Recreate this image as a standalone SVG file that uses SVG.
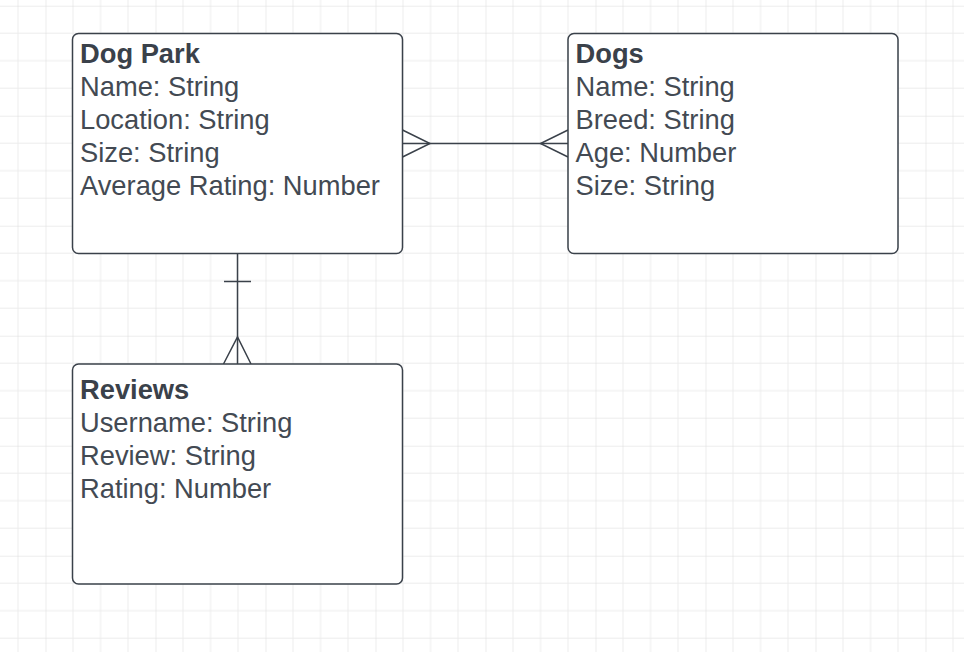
<svg xmlns="http://www.w3.org/2000/svg" width="964" height="652" viewBox="0 0 964 652">
  <defs>
    <pattern id="grid" patternUnits="userSpaceOnUse" x="45.5" y="5.7" width="110" height="110">
      <g fill="none" stroke="#ececec" stroke-width="1">
        <path d="M27.5 0V110M55 0V110M82.5 0V110M0 27.5H110M0 55H110M0 82.5H110"/>
      </g>
      <path d="M0 0V110M0 0H110" fill="none" stroke="#dcdcdc" stroke-width="1"/>
    </pattern>
    <style>
      .box { fill: #ffffff; stroke: #3a414a; stroke-width: 1.5; }
      .title { font-family: "Liberation Sans", Arial, sans-serif; font-size: 27.3px; font-weight: bold; fill: #3a414a; }
      .attr { font-family: "Liberation Sans", Arial, sans-serif; font-size: 27.3px; fill: #434a53; }
      .conn { fill: none; stroke: #3a414a; stroke-width: 1.5; }
    </style>
  </defs>
  <rect width="964" height="652" fill="#ffffff"/>
  <rect width="964" height="652" fill="url(#grid)"/>

  <g id="connectors">
    <path class="conn" d="M402.5 143.5H568"/>
    <path class="conn" d="M402.5 130L430 143.5L402.5 157"/>
    <path class="conn" d="M568 130L540.5 143.5L568 157"/>
    <path class="conn" d="M237.5 253.5V364"/>
    <path class="conn" d="M224 281.5H251"/>
    <path class="conn" d="M223.5 364L237.5 337L251 364"/>
  </g>

  <g id="dog-park">
    <rect class="box" x="72.5" y="33.5" width="330" height="220" rx="6"/>
    <text class="title" x="80" y="62.5">Dog Park</text>
    <text class="attr" x="80" y="95.5">Name: String</text>
    <text class="attr" x="80" y="128.5">Location: String</text>
    <text class="attr" x="80" y="161.5">Size: String</text>
    <text class="attr" x="80" y="194.5">Average Rating: Number</text>
  </g>

  <g id="dogs">
    <rect class="box" x="568" y="33.5" width="330" height="220" rx="6"/>
    <text class="title" x="575.5" y="62.5">Dogs</text>
    <text class="attr" x="575.5" y="95.5">Name: String</text>
    <text class="attr" x="575.5" y="128.5">Breed: String</text>
    <text class="attr" x="575.5" y="161.5">Age: Number</text>
    <text class="attr" x="575.5" y="194.5">Size: String</text>
  </g>

  <g id="reviews">
    <rect class="box" x="72.5" y="364" width="330" height="220" rx="6"/>
    <text class="title" x="80" y="399">Reviews</text>
    <text class="attr" x="80" y="432">Username: String</text>
    <text class="attr" x="80" y="465">Review: String</text>
    <text class="attr" x="80" y="498">Rating: Number</text>
  </g>
</svg>
